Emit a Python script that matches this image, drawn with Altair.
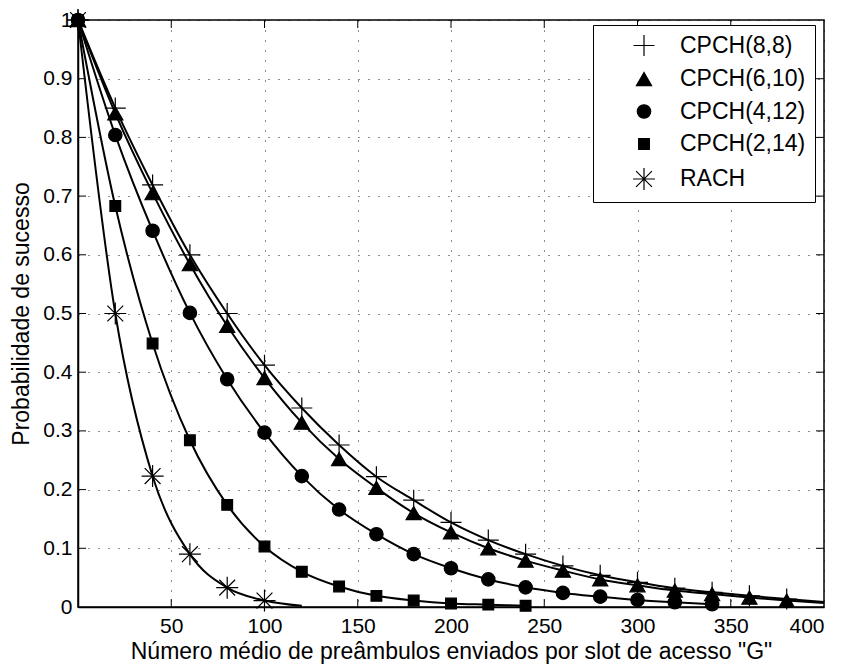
import altair as alt
import pandas as pd

series_names = ["CPCH(8,8)", "CPCH(6,10)", "CPCH(4,12)", "CPCH(2,14)", "RACH"]

# marker points
g_88 = [0, 20, 40, 60, 80, 100, 120, 140, 160, 180, 200, 220, 240, 260, 280, 300, 320, 340, 360, 380]
p_88 = [1.0, 0.850, 0.719, 0.600, 0.500, 0.412, 0.339, 0.276, 0.222, 0.182, 0.144, 0.114, 0.090, 0.070, 0.054, 0.042, 0.032, 0.025, 0.019, 0.0135]

g_610 = [0, 20, 40, 60, 80, 100, 120, 140, 160, 180, 200, 220, 240, 260, 280, 300, 320, 340, 360, 380]
p_610 = [1.0, 0.841, 0.705, 0.584, 0.479, 0.390, 0.314, 0.252, 0.203, 0.160, 0.127, 0.100, 0.079, 0.062, 0.047, 0.037, 0.028, 0.022, 0.016, 0.011]

g_412 = [0, 20, 40, 60, 80, 100, 120, 140, 160, 180, 200, 220, 240, 260, 280, 300, 320, 340]
p_412 = [1.0, 0.804, 0.641, 0.501, 0.388, 0.297, 0.223, 0.166, 0.124, 0.090, 0.066, 0.047, 0.0335, 0.024, 0.0176, 0.012, 0.008, 0.0046]

g_214 = [0, 20, 40, 60, 80, 100, 120, 140, 160, 180, 200, 220, 240]
p_214 = [1.0, 0.683, 0.449, 0.284, 0.174, 0.103, 0.060, 0.035, 0.019, 0.011, 0.006, 0.004, 0.002]

g_rach = [0, 20, 40, 60, 80, 100]
p_rach = [1.0, 0.500, 0.223, 0.090, 0.033, 0.011]

# where the curves end beyond the last marker
end_g = [400, 400, 340, 240, 120]
end_p = [0.0085, 0.007, 0.0046, 0.002, 0.002]

x_ticks = [50, 100, 150, 200, 250, 300, 350, 400]
y_ticks = [0, 0.1, 0.2, 0.3, 0.4, 0.5, 0.6, 0.7, 0.8, 0.9, 1]
x_inner_ticks = [50, 100, 150, 200, 250, 300, 350]
y_inner_ticks = [0.1, 0.2, 0.3, 0.4, 0.5, 0.6, 0.7, 0.8, 0.9]

all_g = [g_88, g_610, g_412, g_214, g_rach]
all_p = [p_88, p_610, p_412, p_214, p_rach]

pts_rows = []
line_rows = []
for i, name in enumerate(series_names):
    for g, p in zip(all_g[i], all_p[i]):
        pts_rows.append({"G": g, "P": p, "serie": name})
        line_rows.append({"G": g, "P": p, "serie": name})
    if end_g[i] != all_g[i][-1]:
        line_rows.append({"G": end_g[i], "P": end_p[i], "serie": name})

pts = pd.DataFrame(pts_rows)
lines = pd.DataFrame(line_rows)
xt = pd.DataFrame({"G": x_inner_ticks})
yt = pd.DataFrame({"P": y_inner_ticks})

FONT = "Liberation Sans"
W, H = 746, 587
TL = 8

xscale = alt.Scale(domain=[0, 400], nice=False, zero=False)
yscale = alt.Scale(domain=[0, 1], nice=False)

xaxis = alt.Axis(values=x_ticks, title='Número médio de preâmbulos enviados por slot de acesso "G"',
                 grid=True, ticks=False, labelPadding=8, titlePadding=4)
yaxis = alt.Axis(values=y_ticks, format="~g", title="Probabilidade de sucesso",
                 grid=True, ticks=False, labelPadding=6, titlePadding=9)

X = alt.X("G:Q", scale=xscale, axis=xaxis)
Y = alt.Y("P:Q", scale=yscale, axis=yaxis)

line_layer = alt.Chart(lines).mark_line(
    color="black", strokeWidth=2, interpolate="monotone"
).encode(x=X, y=Y, detail="serie:N")

plus_path = "M-1,0L1,0M0,-1L0,1"
star_path = "M-1,0L1,0M0,-1L0,1M-0.72,-0.72L0.72,0.72M-0.72,0.72L0.72,-0.72"

point_layer = alt.Chart(pts).mark_point(
    strokeWidth=1.2, opacity=1, fillOpacity=1
).encode(
    x=X, y=Y,
    shape=alt.Shape("serie:N", scale=alt.Scale(domain=series_names,
                    range=[plus_path, "triangle-up", "circle", "square", star_path]), legend=alt.Legend(title=None)),
    fill=alt.Fill("serie:N", scale=alt.Scale(domain=series_names,
                  range=["transparent", "black", "black", "black", "transparent"]), legend=alt.Legend(title=None)),
    stroke=alt.Stroke("serie:N", scale=alt.Scale(domain=series_names,
                      range=["black", "black", "black", "black", "black"]), legend=alt.Legend(title=None)),
    size=alt.Size("serie:N", scale=alt.Scale(type="ordinal", domain=series_names,
                  range=[441, 230, 180, 115, 484]), legend=alt.Legend(title=None)),
)

tick_bottom = alt.Chart(xt).mark_rule(color="black", strokeWidth=1).encode(
    x=X, y=alt.value(H), y2=alt.value(H - TL))
tick_top = alt.Chart(xt).mark_rule(color="black", strokeWidth=1).encode(
    x=X, y=alt.value(0), y2=alt.value(TL))
tick_left = alt.Chart(yt).mark_rule(color="black", strokeWidth=1).encode(
    y=Y, x=alt.value(0), x2=alt.value(TL))
tick_right = alt.Chart(yt).mark_rule(color="black", strokeWidth=1).encode(
    y=Y, x=alt.value(W), x2=alt.value(W - TL))

chart = alt.layer(line_layer, tick_bottom, tick_top, tick_left, tick_right, point_layer).properties(
    width=W, height=H,
    autosize=alt.AutoSizeParams(type="none"),
    padding={"left": 70, "top": 12, "right": 13, "bottom": 58},
).configure_view(
    stroke="black", strokeWidth=1.5
).configure_axis(
    domainColor="black", domainWidth=1.5,
    gridColor="black", gridDash=[1, 9], gridWidth=1, gridOpacity=0.9,
    labelFont=FONT, labelFontSize=21, labelColor="black",
    titleFont=FONT, titleFontSize=23, titleColor="black", titleFontWeight="normal",
).configure_legend(
    orient="none", legendX=515, legendY=5,
    strokeColor="black", fillColor="white", padding=9,
    labelFont=FONT, labelFontSize=23, labelColor="black",
    rowPadding=8.5, symbolOffset=30, labelOffset=24,
    symbolStrokeWidth=1.2,
)

chart.save("out.html", embed_options={"renderer": "svg", "actions": False})
